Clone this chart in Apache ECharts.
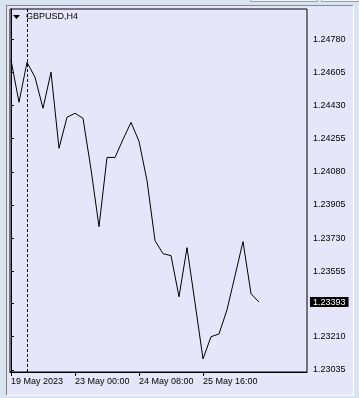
<!DOCTYPE html>
<html><head><meta charset="utf-8">
<script src="https://cdn.jsdelivr.net/npm/echarts@6/dist/echarts.min.js"></script>
<style>html,body{margin:0;padding:0;background:#d8e4f0;}#c{width:359px;height:398px;}</style>
</head><body><div id="c"></div>
<script>
// bar times (H4)
const times = ['19 May 16:00','19 May 20:00','22 May 00:00','22 May 04:00','22 May 08:00','22 May 12:00','22 May 16:00','22 May 20:00',
  '23 May 00:00','23 May 04:00','23 May 08:00','23 May 12:00','23 May 16:00','23 May 20:00','24 May 00:00','24 May 04:00',
  '24 May 08:00','24 May 12:00','24 May 16:00','24 May 20:00','25 May 00:00','25 May 04:00','25 May 08:00','25 May 12:00',
  '25 May 16:00','25 May 20:00','26 May 00:00','26 May 04:00','26 May 08:00','26 May 12:00','26 May 16:00','26 May 20:00'];
// close prices
const closes = [1.24669,1.24447,1.24658,1.24579,1.24415,1.24606,1.24204,1.24368,
  1.24389,1.24362,1.24093,1.23791,1.24156,1.24156,1.24251,1.24341,
  1.24241,1.24034,1.23717,1.23648,1.23638,1.23421,1.23680,1.23389,
  1.23093,1.23210,1.23225,1.23352,1.23532,1.23712,1.23437,1.23393];
// axis ticks
const xTickIdx = [0, 8, 16, 24];
const xTickText = ['19 May 2023', '23 May 00:00', '24 May 08:00', '25 May 16:00'];
const yTicks = [1.23035,1.23210,1.23385,1.23555,1.23730,1.23905,1.24080,1.24255,1.24430,1.24605,1.24780];
const yTickText = ['1.23035','1.23210','1.23385','1.23555','1.23730','1.23905','1.24080','1.24255','1.24430','1.24605','1.24780'];
const separatorIdx = 2;
const symbol = 'GBPUSD,H4';
const lastPrice = 1.23393;

const chart = echarts.init(document.getElementById('c'), null, {renderer:'canvas'});
const F = 'Liberation Sans';
const data = closes.map((v,i)=>[i,v]);
const yMin = 1.23024, yMax = 1.24939;
chart.setOption({
  animation:false,
  backgroundColor:'transparent',
  graphic:[
    {type:'rect', z:-10, silent:true, shape:{x:7,y:5,width:346,height:390}, style:{fill:'#e6e6fa', stroke:null}},
    {type:'line', z:-9, silent:true, shape:{x1:6.5,y1:5,x2:6.5,y2:395}, style:{stroke:'#808080',lineWidth:1}},
    {type:'line', z:-9, silent:true, shape:{x1:7,y1:5.5,x2:353,y2:5.5}, style:{stroke:'#8a8a8a',lineWidth:1}},
    {type:'line', z:-9, silent:true, shape:{x1:353.5,y1:5,x2:353.5,y2:396}, style:{stroke:'#ffffff',lineWidth:1}},
    {type:'line', z:-9, silent:true, shape:{x1:7,y1:395.5,x2:354,y2:395.5}, style:{stroke:'#ffffff',lineWidth:1}},
    {type:'rect', z:-9, silent:true, shape:{x:250.5,y:-3.5,width:67,height:5}, style:{fill:'#eef2f8',stroke:'#9aa4b0',lineWidth:1}},
    {type:'rect', z:-9, silent:true, shape:{x:321.5,y:-3.5,width:40,height:5}, style:{fill:'#eef2f8',stroke:'#9aa4b0',lineWidth:1}},
    {type:'polygon', silent:true, shape:{points:[[13,15],[20,15],[16.5,19]]}, style:{fill:'#000'}}
  ],
  title:{text:symbol, left:26, top:12, padding:0, textStyle:{fontFamily:F, fontSize:9, fontWeight:'normal', color:'#000'}},
  grid:{left:10, right:52, top:9, bottom:26, show:true, borderColor:'#000', borderWidth:1, backgroundColor:'#e6e6fa'},
  xAxis:{type:'value', min:-0.125, max:37,
    axisLine:{lineStyle:{color:'#000',width:1}},
    axisTick:{show:true, length:4, lineStyle:{color:'#000'}, customValues:xTickIdx},
    axisLabel:{customValues:xTickIdx, align:'left', margin:5, color:'#000', fontFamily:F, fontSize:9,
      formatter:(v)=>{const k=xTickIdx.indexOf(Math.round(v)); return k>=0?xTickText[k]:'';}},
    splitLine:{show:false}},
  yAxis:[{type:'value', position:'right', min:yMin, max:yMax, scale:true,
    axisLine:{show:true, lineStyle:{color:'#000',width:1}},
    axisTick:{show:true, length:3, lineStyle:{color:'#000'}, customValues:yTicks},
    axisLabel:{customValues:yTicks, margin:6, color:'#000', fontFamily:F, fontSize:9,
      formatter:(v)=>{let best=0; for(let i=0;i<yTicks.length;i++){if(Math.abs(yTicks[i]-v)<Math.abs(yTicks[best]-v))best=i;} return yTickText[best];}},
    splitLine:{show:false}},
   {type:'value', position:'right', min:yMin, max:yMax, scale:true, z:5,
    axisLine:{show:false}, axisTick:{show:false}, splitLine:{show:false},
    axisLabel:{customValues:[lastPrice], margin:3, color:'#fff', backgroundColor:'#000', padding:[1,3,0,3],
      fontFamily:F, fontSize:9, formatter:()=>lastPrice.toFixed(5)}}],
  series:[{
    type:'line', data:data, showSymbol:false, symbol:'none', smooth:false, z:10,
    lineStyle:{color:'#000', width:1}, silent:true,
    markLine:{silent:true, symbol:['none','none'], animation:false,
      data:[
        {xAxis:separatorIdx, lineStyle:{color:'#000', width:1, type:[3,2]}, label:{show:false}}
      ]}
  }]
});
</script></body></html>
